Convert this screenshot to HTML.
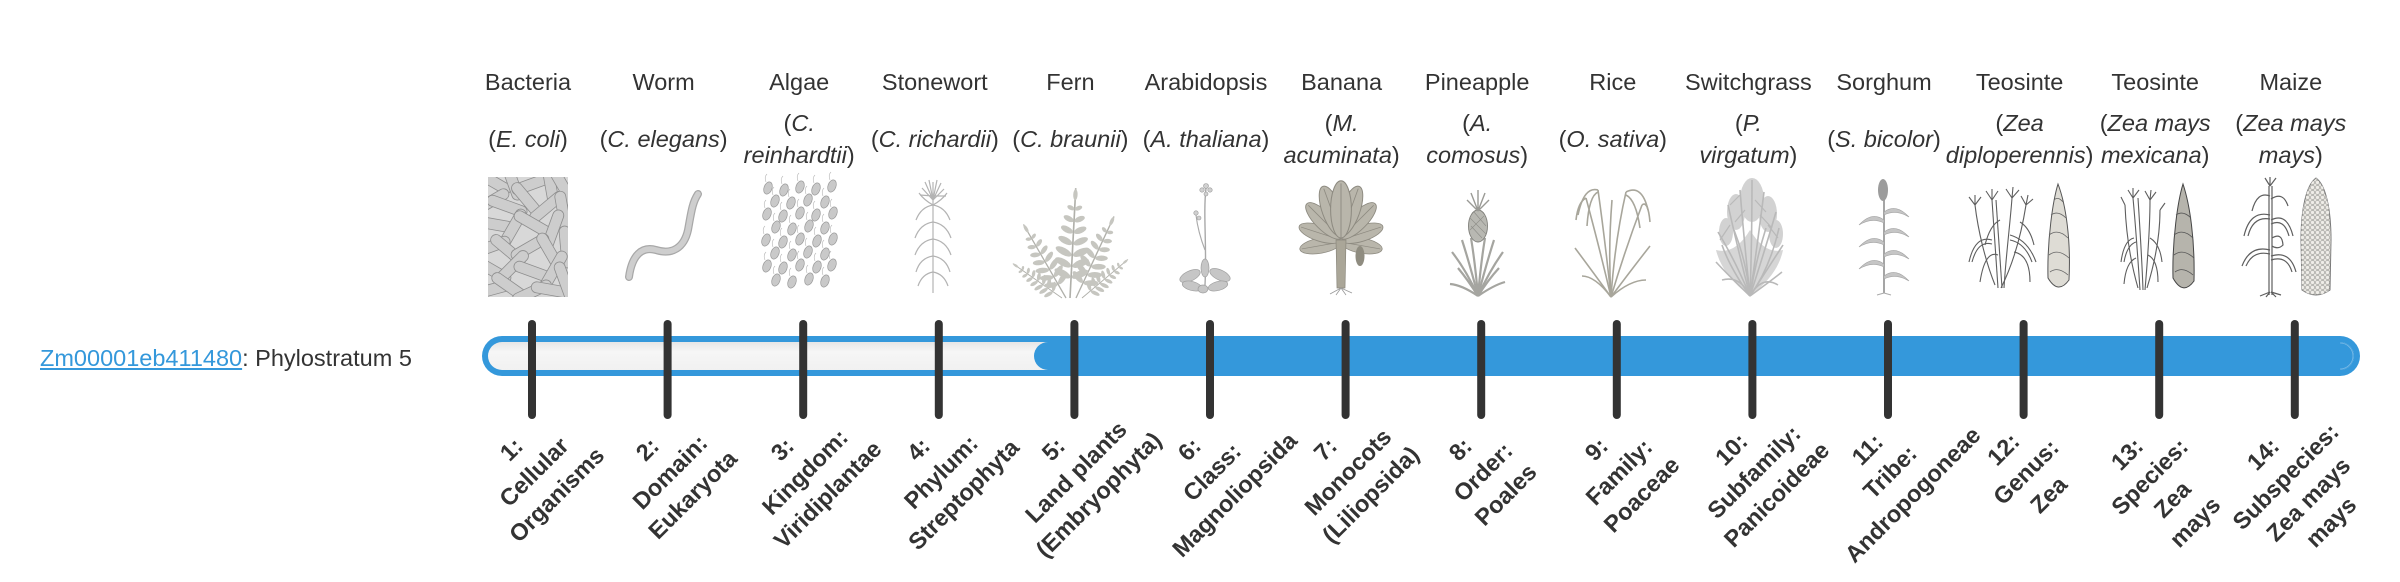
<!DOCTYPE html>
<html><head><meta charset="utf-8">
<style>
html,body{margin:0;padding:0;background:#fff;}
body{width:2400px;height:580px;overflow:hidden;position:relative;font-family:"Liberation Sans",Arial,sans-serif;color:#333;font-size:23.5px;}
svg{position:absolute;left:0;top:0;}
.col{position:absolute;top:66px;width:0;height:0;}
.nm,.sp{position:absolute;left:0;transform:translateX(-50%);white-space:nowrap;text-align:center;line-height:32px;}
.nm{top:0;}
.sp{top:57px;}
.sp.two{top:41px;}
.lb{position:absolute;transform:translate(-50%,-50%) rotate(-45deg);font-weight:bold;line-height:32px;text-align:center;white-space:nowrap;color:#333;}
.cap{position:absolute;left:40px;top:342px;line-height:32px;white-space:nowrap;}
.cap a{color:#3498db;text-decoration:underline;}
</style></head><body>

<svg width="2400" height="580" viewBox="0 0 2400 580" xmlns="http://www.w3.org/2000/svg">
<defs>
  <clipPath id="bclip"><rect x="488" y="177" width="80" height="120"/></clipPath>
  <linearGradient id="trk" x1="0" y1="0" x2="0" y2="1">
    <stop offset="0" stop-color="#e6e6e6"/>
    <stop offset="0.35" stop-color="#f6f6f6"/>
    <stop offset="1" stop-color="#f1f1f1"/>
  </linearGradient>
  <g id="rod"><rect x="-21" y="-5.5" width="42" height="11" rx="5.5" fill="#cdcdcd" stroke="#8e8e8e" stroke-width="0.8"/></g>
  <g id="cell"><ellipse cx="0" cy="0" rx="4" ry="6.3" fill="#c9c9c9" stroke="#999" stroke-width="0.7" transform="rotate(20)"/><path d="M-2,-6 Q-4,-11 -1,-14" fill="none" stroke="#b5b5b5" stroke-width="0.6"/></g>
  <g id="frond" fill="#c6c6c0">
    <line x1="0" y1="0" x2="0" y2="-100" stroke="#b0b0aa" stroke-width="1.5"/>
    <ellipse cx="-8" cy="-22" rx="8" ry="3.2" transform="rotate(25 -8 -22)"/><ellipse cx="8" cy="-22" rx="8" ry="3.2" transform="rotate(-25 8 -22)"/>
    <ellipse cx="-8" cy="-32" rx="8" ry="3.2" transform="rotate(25 -8 -32)"/><ellipse cx="8" cy="-32" rx="8" ry="3.2" transform="rotate(-25 8 -32)"/>
    <ellipse cx="-8" cy="-42" rx="8" ry="3.2" transform="rotate(25 -8 -42)"/><ellipse cx="8" cy="-42" rx="8" ry="3.2" transform="rotate(-25 8 -42)"/>
    <ellipse cx="-7" cy="-52" rx="7" ry="3" transform="rotate(25 -7 -52)"/><ellipse cx="7" cy="-52" rx="7" ry="3" transform="rotate(-25 7 -52)"/>
    <ellipse cx="-6" cy="-62" rx="6" ry="2.8" transform="rotate(25 -6 -62)"/><ellipse cx="6" cy="-62" rx="6" ry="2.8" transform="rotate(-25 6 -62)"/>
    <ellipse cx="-5" cy="-72" rx="5" ry="2.5" transform="rotate(25 -5 -72)"/><ellipse cx="5" cy="-72" rx="5" ry="2.5" transform="rotate(-25 5 -72)"/>
    <ellipse cx="-3.5" cy="-82" rx="3.5" ry="2" transform="rotate(25 -3.5 -82)"/><ellipse cx="3.5" cy="-82" rx="3.5" ry="2" transform="rotate(-25 3.5 -82)"/>
    <ellipse cx="0" cy="-94" rx="2" ry="5"/>
  </g>
  <g id="bleaf"><ellipse cx="0" cy="-22" rx="8" ry="22" fill="#b9b6ab" stroke="#8d8a80" stroke-width="0.8"/><line x1="0" y1="0" x2="0" y2="-42" stroke="#8d8a80" stroke-width="0.7"/></g>
  <g id="sleaf"><path d="M0,0 Q12,-9 25,5 Q12,-3 0,3 Z" fill="#c5c5c5" stroke="#a3a3a3" stroke-width="0.6"/></g>
  <pattern id="kern" width="5" height="5" patternUnits="userSpaceOnUse"><rect x="0.6" y="0.6" width="3.8" height="3.8" rx="1.5" fill="#efede8" stroke="#9a9a96" stroke-width="0.6"/></pattern>
</defs>

<!-- 1 Bacteria -->
<g clip-path="url(#bclip)">
  <rect x="488" y="177" width="80" height="120" fill="#d8d8d8"/>
  <use href="#rod" transform="translate(492 181) rotate(30)"/>
  <use href="#rod" transform="translate(512 180) rotate(70)"/>
  <use href="#rod" transform="translate(532 184) rotate(-20)"/>
  <use href="#rod" transform="translate(550 182) rotate(80)"/>
  <use href="#rod" transform="translate(564 188) rotate(60)"/>
  <use href="#rod" transform="translate(490 202) rotate(-30)"/>
  <use href="#rod" transform="translate(507 206) rotate(20)"/>
  <use href="#rod" transform="translate(527 200) rotate(50)"/>
  <use href="#rod" transform="translate(547 207) rotate(-40)"/>
  <use href="#rod" transform="translate(563 212) rotate(80)"/>
  <use href="#rod" transform="translate(492 224) rotate(10)"/>
  <use href="#rod" transform="translate(513 228) rotate(-60)"/>
  <use href="#rod" transform="translate(533 224) rotate(30)"/>
  <use href="#rod" transform="translate(553 230) rotate(-70)"/>
  <use href="#rod" transform="translate(490 247) rotate(-20)"/>
  <use href="#rod" transform="translate(508 250) rotate(40)"/>
  <use href="#rod" transform="translate(530 247) rotate(-30)"/>
  <use href="#rod" transform="translate(550 252) rotate(60)"/>
  <use href="#rod" transform="translate(566 247) rotate(85)"/>
  <use href="#rod" transform="translate(492 270) rotate(30)"/>
  <use href="#rod" transform="translate(512 267) rotate(-45)"/>
  <use href="#rod" transform="translate(534 272) rotate(20)"/>
  <use href="#rod" transform="translate(554 270) rotate(-60)"/>
  <use href="#rod" transform="translate(490 290) rotate(-15)"/>
  <use href="#rod" transform="translate(510 287) rotate(35)"/>
  <use href="#rod" transform="translate(532 292) rotate(-25)"/>
  <use href="#rod" transform="translate(552 290) rotate(10)"/>
  <use href="#rod" transform="translate(565 282) rotate(70)"/>
</g>

<!-- 2 Worm -->
<path d="M629,277 C632,255 642,246 656,250 C672,255 684,248 688,230 C691,214 692,203 698,194" fill="none" stroke="#a8a8a8" stroke-width="8" stroke-linecap="round"/>
<path d="M629,277 C632,255 642,246 656,250 C672,255 684,248 688,230 C691,214 692,203 698,194" fill="none" stroke="#cecece" stroke-width="5.5" stroke-linecap="round"/>

<!-- 3 Algae -->
<g>
  <use href="#cell" x="768" y="188"/><use href="#cell" x="784" y="190"/><use href="#cell" x="800" y="187"/><use href="#cell" x="816" y="189"/><use href="#cell" x="832" y="186"/>
  <use href="#cell" x="775" y="201"/><use href="#cell" x="791" y="203"/><use href="#cell" x="808" y="200"/><use href="#cell" x="825" y="202"/>
  <use href="#cell" x="767" y="214"/><use href="#cell" x="783" y="216"/><use href="#cell" x="800" y="213"/><use href="#cell" x="816" y="215"/><use href="#cell" x="833" y="213"/>
  <use href="#cell" x="776" y="227"/><use href="#cell" x="792" y="229"/><use href="#cell" x="809" y="226"/><use href="#cell" x="825" y="228"/>
  <use href="#cell" x="766" y="240"/><use href="#cell" x="783" y="242"/><use href="#cell" x="800" y="239"/><use href="#cell" x="817" y="241"/><use href="#cell" x="833" y="239"/>
  <use href="#cell" x="775" y="253"/><use href="#cell" x="792" y="255"/><use href="#cell" x="808" y="252"/><use href="#cell" x="825" y="254"/>
  <use href="#cell" x="767" y="266"/><use href="#cell" x="783" y="268"/><use href="#cell" x="800" y="265"/><use href="#cell" x="817" y="267"/><use href="#cell" x="832" y="265"/>
  <use href="#cell" x="776" y="280"/><use href="#cell" x="792" y="282"/><use href="#cell" x="809" y="279"/><use href="#cell" x="825" y="281"/>
</g>

<!-- 4 Stonewort -->
<g fill="none" stroke="#b3b3b3" stroke-width="1.2">
  <path d="M933,293 L933,182"/>
  <path d="M933,205 Q921,207 916,220 M933,205 Q945,207 950,220 M933,205 Q924,200 919,193 M933,205 Q942,200 947,193"/>
  <path d="M933,222 Q920,224 915,238 M933,222 Q946,224 951,238"/>
  <path d="M933,239 Q920,241 915,255 M933,239 Q946,241 951,255"/>
  <path d="M933,256 Q920,258 916,272 M933,256 Q946,258 950,272"/>
  <path d="M933,272 Q922,274 918,286 M933,272 Q944,274 948,286"/>
  <path d="M933,200 L925,182 M933,200 L929,180 M933,200 L937,180 M933,200 L941,183 M933,200 L922,188 M933,200 L944,189 M933,196 L920,195 M933,196 L946,196"/>
</g>

<!-- 5 Fern -->
<g>
  <use href="#frond" transform="translate(1062 298) rotate(-55) scale(0.6)"/>
  <use href="#frond" transform="translate(1082 298) rotate(50) scale(0.6)"/>
  <use href="#frond" transform="translate(1066 298) rotate(-30) scale(0.85)"/>
  <use href="#frond" transform="translate(1076 298) rotate(25) scale(0.9)"/>
  <use href="#frond" transform="translate(1070 298) rotate(3) scale(1.1)"/>
</g>

<!-- 6 Arabidopsis -->
<g>
  <path d="M1205,285 C1207,245 1203,215 1206,188" fill="none" stroke="#a9a9a9" stroke-width="1.4"/>
  <path d="M1205,250 Q1198,232 1196,215" fill="none" stroke="#a9a9a9" stroke-width="1.1"/>
  <g fill="#c6c6c6" stroke="#a0a0a0" stroke-width="0.7">
    <ellipse cx="1190" cy="276" rx="11" ry="5" transform="rotate(-25 1190 276)"/>
    <ellipse cx="1220" cy="275" rx="11" ry="5" transform="rotate(25 1220 275)"/>
    <ellipse cx="1192" cy="286" rx="10" ry="4.5" transform="rotate(15 1192 286)"/>
    <ellipse cx="1218" cy="286" rx="10" ry="4.5" transform="rotate(-15 1218 286)"/>
    <ellipse cx="1205" cy="268" rx="4" ry="9"/>
    <ellipse cx="1203" cy="289" rx="5" ry="4"/>
  </g>
  <g fill="#d0d0d0" stroke="#999" stroke-width="0.6">
    <circle cx="1206" cy="186" r="2.5"/><circle cx="1202" cy="190" r="2.2"/><circle cx="1210" cy="190" r="2.2"/><circle cx="1206" cy="194" r="2"/>
    <circle cx="1196" cy="213" r="2.2"/><circle cx="1199" cy="218" r="2"/>
  </g>
</g>

<!-- 7 Banana -->
<g>
  <use href="#bleaf" transform="translate(1341 242) rotate(-100) scale(0.95)"/>
  <use href="#bleaf" transform="translate(1341 242) rotate(100) scale(0.95)"/>
  <use href="#bleaf" transform="translate(1341 240) rotate(-72)"/>
  <use href="#bleaf" transform="translate(1341 240) rotate(72)"/>
  <use href="#bleaf" transform="translate(1341 238) rotate(-45) scale(1.1)"/>
  <use href="#bleaf" transform="translate(1341 238) rotate(45) scale(1.1)"/>
  <use href="#bleaf" transform="translate(1341 236) rotate(-20) scale(1.2)"/>
  <use href="#bleaf" transform="translate(1341 236) rotate(20) scale(1.2)"/>
  <use href="#bleaf" transform="translate(1341 238) rotate(0) scale(1.3)"/>
  <path d="M1336,240 L1337,288 L1345,288 L1346,240 Z" fill="#aaa698" stroke="#8a877c" stroke-width="0.7"/>
  <ellipse cx="1360" cy="256" rx="4.5" ry="10" fill="#8f8c80"/>
  <path d="M1341,288 L1330,294 M1341,288 L1336,295 M1341,288 L1346,295 M1341,288 L1352,293" stroke="#999" stroke-width="0.8"/>
</g>

<!-- 8 Pineapple -->
<g>
  <g fill="none" stroke="#a5a5a0" stroke-width="2.2">
    <path d="M1478,296 Q1466,270 1452,252"/><path d="M1478,296 Q1470,265 1462,240"/><path d="M1478,296 Q1475,262 1471,238"/>
    <path d="M1478,296 Q1481,262 1485,238"/><path d="M1478,296 Q1486,265 1494,240"/><path d="M1478,296 Q1490,270 1503,252"/>
    <path d="M1478,296 Q1462,285 1450,284"/><path d="M1478,296 Q1494,285 1505,282"/><path d="M1478,296 Q1468,280 1458,268"/><path d="M1478,296 Q1488,280 1499,268"/>
  </g>
  <ellipse cx="1478" cy="226" rx="9.5" ry="16" fill="#b8b8b2" stroke="#7f7f7a" stroke-width="0.9"/>
  <path d="M1470,218 L1486,234 M1470,230 L1484,216 M1471,226 L1482,238 M1474,212 L1486,226" stroke="#8d8d88" stroke-width="0.6"/>
  <path d="M1478,211 L1478,190 M1478,211 L1471,193 M1478,211 L1485,193 M1478,211 L1467,200 M1478,211 L1489,200" stroke="#9a9a95" stroke-width="1.4"/>
</g>

<!-- 9 Rice -->
<g fill="none" stroke="#a8a69b" stroke-width="1.6">
  <path d="M1611,297 Q1600,250 1586,198"/><path d="M1611,297 Q1605,240 1598,190"/><path d="M1611,297 Q1615,240 1626,192"/>
  <path d="M1611,297 Q1625,250 1642,205"/><path d="M1611,297 Q1590,268 1575,248"/><path d="M1611,297 Q1635,265 1650,246"/>
  <path d="M1611,297 Q1608,250 1612,200"/><path d="M1611,297 Q1595,276 1582,276"/><path d="M1611,297 Q1630,280 1646,280"/>
  <path d="M1598,190 Q1584,186 1578,215"/><path d="M1598,192 Q1589,196 1587,226"/><path d="M1586,198 Q1578,202 1576,220"/>
  <path d="M1626,192 Q1642,184 1648,210"/><path d="M1626,195 Q1636,200 1640,228"/><path d="M1642,205 Q1648,200 1650,222"/>
</g>

<!-- 10 Switchgrass (bushier) -->
<g fill="#d2d2d2">
  <ellipse cx="1752" cy="200" rx="12" ry="22"/><ellipse cx="1736" cy="212" rx="9" ry="18"/><ellipse cx="1768" cy="214" rx="9" ry="18"/>
  <ellipse cx="1726" cy="232" rx="7" ry="14"/><ellipse cx="1776" cy="234" rx="7" ry="14"/>
  <path d="M1750,296 Q1722,275 1716,250 Q1735,255 1750,230 Q1765,255 1783,250 Q1778,275 1750,296 Z" fill="#d6d6d6"/>
</g>
<g fill="none" stroke="#b9b9b9" stroke-width="1.6">
  <path d="M1750,296 Q1735,260 1718,232"/><path d="M1750,296 Q1738,250 1728,205"/><path d="M1750,296 Q1744,240 1740,190"/>
  <path d="M1750,296 Q1752,240 1752,180"/><path d="M1750,296 Q1758,240 1764,192"/><path d="M1750,296 Q1765,250 1776,212"/>
  <path d="M1750,296 Q1770,265 1783,245"/><path d="M1750,296 Q1728,275 1716,262"/><path d="M1750,296 Q1772,280 1782,272"/>
  <path d="M1750,296 Q1740,275 1722,280"/><path d="M1750,296 Q1762,275 1778,285"/>
  <path d="M1750,296 Q1730,268 1722,245"/><path d="M1750,296 Q1770,268 1779,228"/><path d="M1750,296 Q1746,260 1734,230"/><path d="M1750,296 Q1756,260 1766,228"/>
  <path d="M1745,210 L1735,222 M1755,200 L1766,212 M1740,195 L1730,205 M1760,215 L1772,228 M1730,225 L1720,240 M1768,225 L1778,238" stroke-width="1.2"/>
</g>

<!-- 11 Sorghum -->
<g>
  <path d="M1884,293 L1884,195" stroke="#a5a5a5" stroke-width="2"/>
  <ellipse cx="1883" cy="190" rx="5" ry="11" fill="#9c9c9c"/>
  <use href="#sleaf" transform="translate(1884 212)"/>
  <use href="#sleaf" transform="translate(1884 220) scale(-1 1)"/>
  <use href="#sleaf" transform="translate(1884 232)"/>
  <use href="#sleaf" transform="translate(1884 242) scale(-1 1)"/>
  <use href="#sleaf" transform="translate(1884 254)"/>
  <use href="#sleaf" transform="translate(1884 264) scale(-1 1)"/>
  <use href="#sleaf" transform="translate(1884 276)"/>
  <path d="M1884,293 L1877,295 M1884,293 L1891,295" stroke="#aaa" stroke-width="1"/>
</g>

<!-- 12 Teosinte -->
<g fill="none" stroke="#5e5e5e" stroke-width="1.1">
  <path d="M1998,288 C1996,260 1994,230 1992,200"/><path d="M2002,288 C2000,260 1998,230 1996,200"/>
  <path d="M2004,288 C2006,255 2010,225 2012,198"/>
  <path d="M2001,288 C2015,260 2022,230 2026,205"/>
  <path d="M1995,285 C1985,260 1978,230 1975,205"/>
  <path d="M1992,240 Q1975,235 1969,262 M1992,244 Q1978,240 1972,262"/>
  <path d="M2010,235 Q2028,240 2036,262 M2010,240 Q2025,243 2032,262"/>
  <path d="M1998,255 Q1985,250 1980,282 M2014,252 Q2030,255 2030,282"/>
  <path d="M2000,220 Q1990,225 1985,245 M2020,222 Q2030,228 2034,245"/>
  <path d="M1975,205 l-6,-8 M1975,205 l0,-10 M1975,205 l6,-8 M1992,200 l-6,-9 M1992,200 l0,-11 M1992,200 l6,-9 M2012,198 l-6,-9 M2012,198 l1,-11 M2012,198 l7,-8 M2026,205 l-5,-9 M2026,205 l2,-10 M2026,205 l7,-6"/>
</g>
<path d="M2058,184 C2053,200 2047,240 2048,278 Q2058,295 2069,280 C2071,240 2066,205 2058,184 Z" fill="#dedcd5" stroke="#555" stroke-width="1"/>
<path d="M2051,215 Q2058,210 2066,218 M2049,235 Q2058,228 2068,238 M2049,255 Q2058,248 2069,258 M2050,272 Q2058,266 2068,275 M2054,200 Q2058,196 2063,202" fill="none" stroke="#666" stroke-width="0.8"/>

<!-- 13 Teosinte -->
<g fill="none" stroke="#5e5e5e" stroke-width="1.1">
  <path d="M2140,290 C2138,260 2136,230 2133,198"/><path d="M2143,290 C2142,260 2140,230 2138,198"/>
  <path d="M2145,290 C2148,255 2150,228 2150,200"/>
  <path d="M2138,288 C2130,260 2126,230 2125,205"/>
  <path d="M2147,288 C2155,262 2160,235 2160,210"/>
  <path d="M2134,238 Q2124,240 2121,262 M2136,242 Q2127,245 2124,262"/>
  <path d="M2150,238 Q2160,244 2162,262 M2148,255 Q2158,260 2158,282"/>
  <path d="M2136,258 Q2126,262 2124,284"/>
  <path d="M2133,198 l-5,-8 M2133,198 l0,-10 M2133,198 l6,-8 M2150,200 l-5,-9 M2150,200 l1,-10 M2150,200 l6,-8 M2125,205 l-4,-8 M2160,210 l5,-7"/>
</g>
<path d="M2183,184 C2178,200 2172,240 2173,278 Q2183,296 2194,281 C2195,240 2190,205 2183,184 Z" fill="#b6b4ac" stroke="#444" stroke-width="1"/>
<path d="M2176,215 Q2183,210 2191,218 M2174,235 Q2183,228 2193,238 M2174,255 Q2183,248 2194,258 M2175,272 Q2183,266 2193,275" fill="none" stroke="#555" stroke-width="0.8"/>

<!-- 14 Maize -->
<g fill="none" stroke="#5e5e5e" stroke-width="1.2">
  <path d="M2269,295 L2269,186 M2272,295 L2272,186"/>
  <path d="M2270,215 Q2250,210 2244,236 M2270,219 Q2253,216 2248,236"/>
  <path d="M2271,220 Q2287,212 2293,236 M2271,224 Q2284,218 2289,236"/>
  <path d="M2270,250 Q2250,245 2242,266 M2270,254 Q2253,250 2246,266"/>
  <path d="M2271,256 Q2290,250 2296,272 M2271,260 Q2287,255 2292,272"/>
  <path d="M2270,196 Q2257,191 2252,211 M2271,199 Q2283,191 2288,206"/>
  <path d="M2270,186 l-5,-8 M2270,186 l0,-9 M2270,186 l6,-8"/>
  <path d="M2270,292 l-10,4 M2270,292 l-4,5 M2271,292 l5,5 M2271,292 l10,3"/>
  <path d="M2272,238 Q2282,232 2283,245 Q2278,250 2272,246"/>
</g>
<path d="M2316,178 C2306,185 2301,210 2301,240 L2302,290 Q2316,300 2330,290 L2331,240 C2331,210 2326,185 2316,178 Z" fill="#ebe9e3" stroke="#777" stroke-width="1"/>
<path d="M2316,178 C2306,185 2301,210 2301,240 L2302,290 Q2316,300 2330,290 L2331,240 C2331,210 2326,185 2316,178 Z" fill="url(#kern)"/>

<!-- Progress bar -->
<rect x="482" y="336" width="1878" height="40" rx="20" fill="#3498db"/>
<rect x="488" y="342" width="1866" height="28" rx="14" fill="url(#trk)"/>
<rect x="1034" y="342" width="1320" height="28" rx="14" fill="#3498db"/>
<path d="M2340,343 A13,13 0 0 1 2340,369" fill="none" stroke="#7cbbe6" stroke-width="0.8"/>

<!-- Ticks -->
<g stroke="#333" stroke-width="8" stroke-linecap="round">
  <line x1="532" y1="324" x2="532" y2="415"/>
  <line x1="667.6" y1="324" x2="667.6" y2="415"/>
  <line x1="803.2" y1="324" x2="803.2" y2="415"/>
  <line x1="938.8" y1="324" x2="938.8" y2="415"/>
  <line x1="1074.4" y1="324" x2="1074.4" y2="415"/>
  <line x1="1210" y1="324" x2="1210" y2="415"/>
  <line x1="1345.6" y1="324" x2="1345.6" y2="415"/>
  <line x1="1481.2" y1="324" x2="1481.2" y2="415"/>
  <line x1="1616.8" y1="324" x2="1616.8" y2="415"/>
  <line x1="1752.4" y1="324" x2="1752.4" y2="415"/>
  <line x1="1888" y1="324" x2="1888" y2="415"/>
  <line x1="2023.6" y1="324" x2="2023.6" y2="415"/>
  <line x1="2159.2" y1="324" x2="2159.2" y2="415"/>
  <line x1="2294.8" y1="324" x2="2294.8" y2="415"/>
</g>
</svg>

<div class="cap"><a>Zm00001eb411480</a>: Phylostratum 5</div>

<div class="col" style="left:528px"><div class="nm">Bacteria</div><div class="sp">(<i>E. coli</i>)</div></div>
<div class="col" style="left:663.6px"><div class="nm">Worm</div><div class="sp">(<i>C. elegans</i>)</div></div>
<div class="col" style="left:799.2px"><div class="nm">Algae</div><div class="sp two">(<i>C.</i><br><i>reinhardtii</i>)</div></div>
<div class="col" style="left:934.8px"><div class="nm">Stonewort</div><div class="sp">(<i>C. richardii</i>)</div></div>
<div class="col" style="left:1070.4px"><div class="nm">Fern</div><div class="sp">(<i>C. braunii</i>)</div></div>
<div class="col" style="left:1206px"><div class="nm">Arabidopsis</div><div class="sp">(<i>A. thaliana</i>)</div></div>
<div class="col" style="left:1341.6px"><div class="nm">Banana</div><div class="sp two">(<i>M.</i><br><i>acuminata</i>)</div></div>
<div class="col" style="left:1477.2px"><div class="nm">Pineapple</div><div class="sp two">(<i>A.</i><br><i>comosus</i>)</div></div>
<div class="col" style="left:1612.8px"><div class="nm">Rice</div><div class="sp">(<i>O. sativa</i>)</div></div>
<div class="col" style="left:1748.4px"><div class="nm">Switchgrass</div><div class="sp two">(<i>P.</i><br><i>virgatum</i>)</div></div>
<div class="col" style="left:1884px"><div class="nm">Sorghum</div><div class="sp">(<i>S. bicolor</i>)</div></div>
<div class="col" style="left:2019.6px"><div class="nm">Teosinte</div><div class="sp two">(<i>Zea</i><br><i>diploperennis</i>)</div></div>
<div class="col" style="left:2155.2px"><div class="nm">Teosinte</div><div class="sp two">(<i>Zea mays</i><br><i>mexicana</i>)</div></div>
<div class="col" style="left:2290.8px"><div class="nm">Maize</div><div class="sp two">(<i>Zea mays</i><br><i>mays</i>)</div></div>

<div class="lb" style="left:534px;top:471.5px">1:<br>Cellular<br>Organisms</div>
<div class="lb" style="left:669.6px;top:471.5px">2:<br>Domain:<br>Eukaryota</div>
<div class="lb" style="left:805.2px;top:471.5px">3:<br>Kingdom:<br>Viridiplantae</div>
<div class="lb" style="left:940.8px;top:471.5px">4:<br>Phylum:<br>Streptophyta</div>
<div class="lb" style="left:1076.4px;top:471.5px">5:<br>Land plants<br>(Embryophyta)</div>
<div class="lb" style="left:1212px;top:471.5px">6:<br>Class:<br>Magnoliopsida</div>
<div class="lb" style="left:1347.6px;top:471.5px">7:<br>Monocots<br>(Liliopsida)</div>
<div class="lb" style="left:1483.2px;top:471.5px">8:<br>Order:<br>Poales</div>
<div class="lb" style="left:1618.8px;top:471.5px">9:<br>Family:<br>Poaceae</div>
<div class="lb" style="left:1754.4px;top:471.5px">10:<br>Subfamily:<br>Panicoideae</div>
<div class="lb" style="left:1890px;top:471.5px">11:<br>Tribe:<br>Andropogoneae</div>
<div class="lb" style="left:2025.6px;top:471.5px">12:<br>Genus:<br>Zea</div>
<div class="lb" style="left:2161.2px;top:487.5px">13:<br>Species:<br>Zea<br>mays</div>
<div class="lb" style="left:2296.8px;top:487.5px">14:<br>Subspecies:<br>Zea mays<br>mays</div>

</body></html>
